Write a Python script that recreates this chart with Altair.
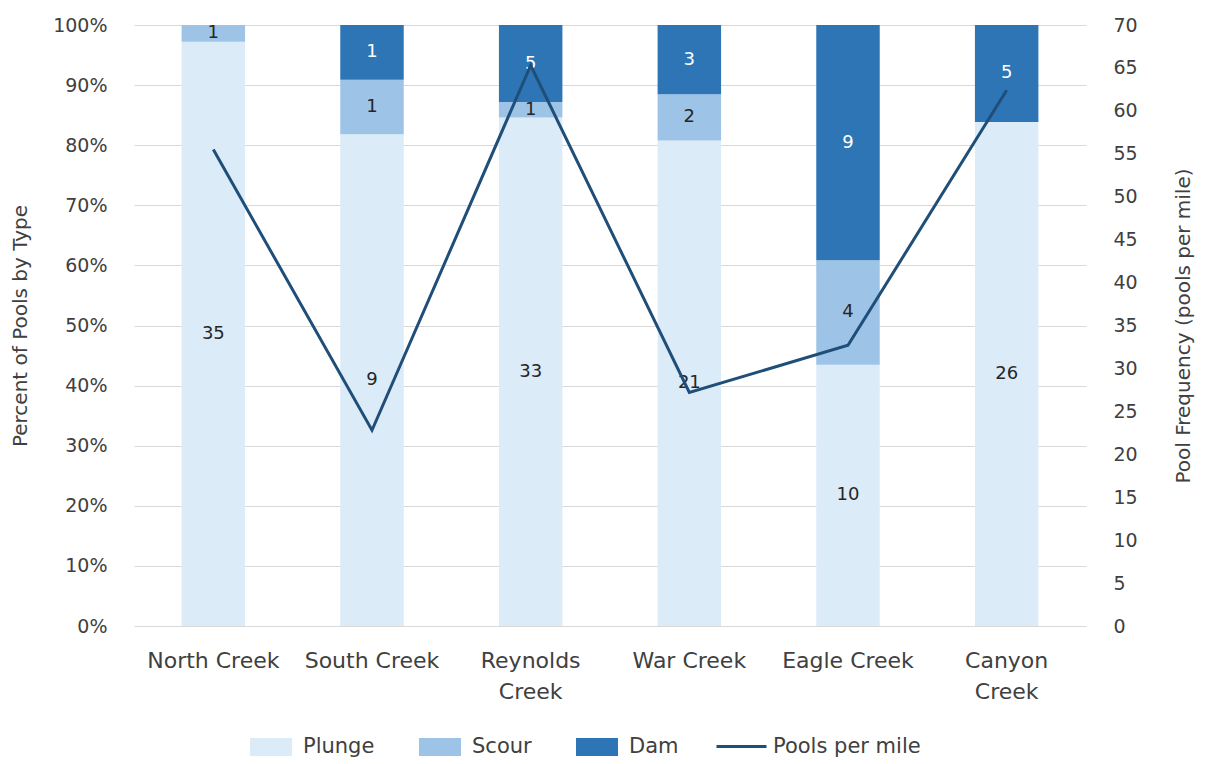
import altair as alt
import pandas as pd

# Pool counts by type for each creek, and overall pool frequency
creeks = ["North Creek", "South Creek", "Reynolds Creek", "War Creek", "Eagle Creek", "Canyon Creek"]
plunge = [35, 9, 33, 21, 10, 26]
scour = [1, 1, 1, 2, 4, 0]
dam = [0, 1, 5, 3, 9, 5]
pools_per_mile = [55.5, 22.8, 65.3, 27.2, 32.7, 62.4]

pool_types = ["Plunge", "Scour", "Dam"]
type_colors = ["#dcebf8", "#9dc3e6", "#2e75b6"]
line_color = "#1f4e79"
text_color = "#404040"
font = "DejaVu Sans"

rows = []
for i, c in enumerate(creeks):
    for k, (t, vals) in enumerate(zip(pool_types, [plunge, scour, dam])):
        rows.append({"creek": c, "type": t, "ord": k, "count": vals[i]})
counts = pd.DataFrame(rows)
freq = pd.DataFrame({"creek": creeks, "ppm": pools_per_mile, "series": "Pools per mile"})

x_enc = alt.X(
    "creek:N",
    sort=creeks,
    title=None,
    scale=alt.Scale(paddingInner=0.6, paddingOuter=0.3),
    axis=alt.Axis(
        labelAngle=0,
        labelExpr="indexof(datum.value, 'Reynolds') >= 0 || indexof(datum.value, 'Canyon') >= 0 ? split(datum.value, ' ') : datum.value",
        labelFontSize=22,
        labelLineHeight=31,
        labelPadding=24,
        labelOverlap=False,
        labelLimit=300,
        labelColor=text_color,
        labelFont=font,
        labelBaseline="top",
        ticks=False,
        domain=False,
    ),
)

stacked = alt.Chart(counts).transform_stack(
    stack="count",
    groupby=["creek"],
    as_=["y0", "y1"],
    sort=[alt.SortField("ord", order="ascending")],
    offset="normalize",
)

pct_scale = alt.Scale(domain=[0, 1])

bars = stacked.mark_bar().encode(
    x=x_enc,
    y=alt.Y(
        "y0:Q",
        scale=pct_scale,
        title="Percent of Pools by Type",
        axis=alt.Axis(
            format=".0%",
            values=[i / 10 for i in range(11)],
            grid=True,
            gridColor="#d9d9d9",
            domain=False,
            ticks=False,
            labelPadding=27,
            labelFontSize=19,
            labelColor=text_color,
            labelFont=font,
            titleFontSize=20,
            titleFontWeight="normal",
            titleColor=text_color,
            titleFont=font,
            titlePadding=22,
        ),
    ),
    y2="y1:Q",
    color=alt.Color(
        "type:N",
        scale=alt.Scale(domain=pool_types, range=type_colors),
        legend=alt.Legend(
            orient="none",
            legendX=116,
            legendY=701,
            direction="horizontal",
            title=None,
            symbolType="M-1,-0.43H1V0.43H-1Z",
            symbolSize=1764,
            symbolStrokeWidth=0,
            labelOffset=11,
            columnPadding=44,
            padding=0,
            labelFontSize=21,
            labelColor=text_color,
            labelFont=font,
        ),
    ),
)

labels = (
    stacked.transform_filter(alt.datum["count"] > 0)
    .transform_calculate(mid="(datum.y0 + datum.y1) / 2")
    .mark_text(fontSize=18, font=font)
    .encode(
        x=alt.X("creek:N", sort=creeks),
        y=alt.Y("mid:Q", scale=pct_scale),
        text=alt.Text("count:Q"),
        color=alt.condition(alt.datum.type == "Dam", alt.value("white"), alt.value("#262626")),
    )
)

line = alt.Chart(freq).mark_line(strokeWidth=3).encode(
    x=alt.X("creek:N", sort=creeks),
    y=alt.Y(
        "ppm:Q",
        scale=alt.Scale(domain=[0, 70]),
        title="Pool Frequency  (pools per mile)",
        axis=alt.Axis(
            orient="right",
            values=list(range(0, 71, 5)),
            grid=False,
            domain=False,
            ticks=False,
            labelPadding=27,
            labelFontSize=19,
            labelColor=text_color,
            labelFont=font,
            titleFontSize=20,
            titleFontWeight="normal",
            titleColor=text_color,
            titleFont=font,
            titleAngle=270,
            titlePadding=56,
        ),
    ),
    stroke=alt.Stroke(
        "series:N",
        scale=alt.Scale(domain=["Pools per mile"], range=[line_color]),
        legend=alt.Legend(
            orient="none",
            legendX=581,
            legendY=695,
            title=None,
            symbolType="stroke",
            symbolSize=2500,
            symbolStrokeWidth=3,
            labelOffset=5,
            padding=0,
            labelFontSize=21,
            labelColor=text_color,
            labelFont=font,
        ),
    ),
)

left = alt.layer(bars, labels)
chart = (
    alt.layer(left, line)
    .resolve_scale(y="independent", color="independent")
    .properties(
        width=952,
        height=601,
        padding={"left": 134, "top": 25, "right": 122, "bottom": 138},
        autosize=alt.AutoSizeParams(type="none"),
        background="white",
    )
    .configure_view(stroke=None)
)

chart.save("out.html", embed_options={"renderer": "svg", "actions": False})
